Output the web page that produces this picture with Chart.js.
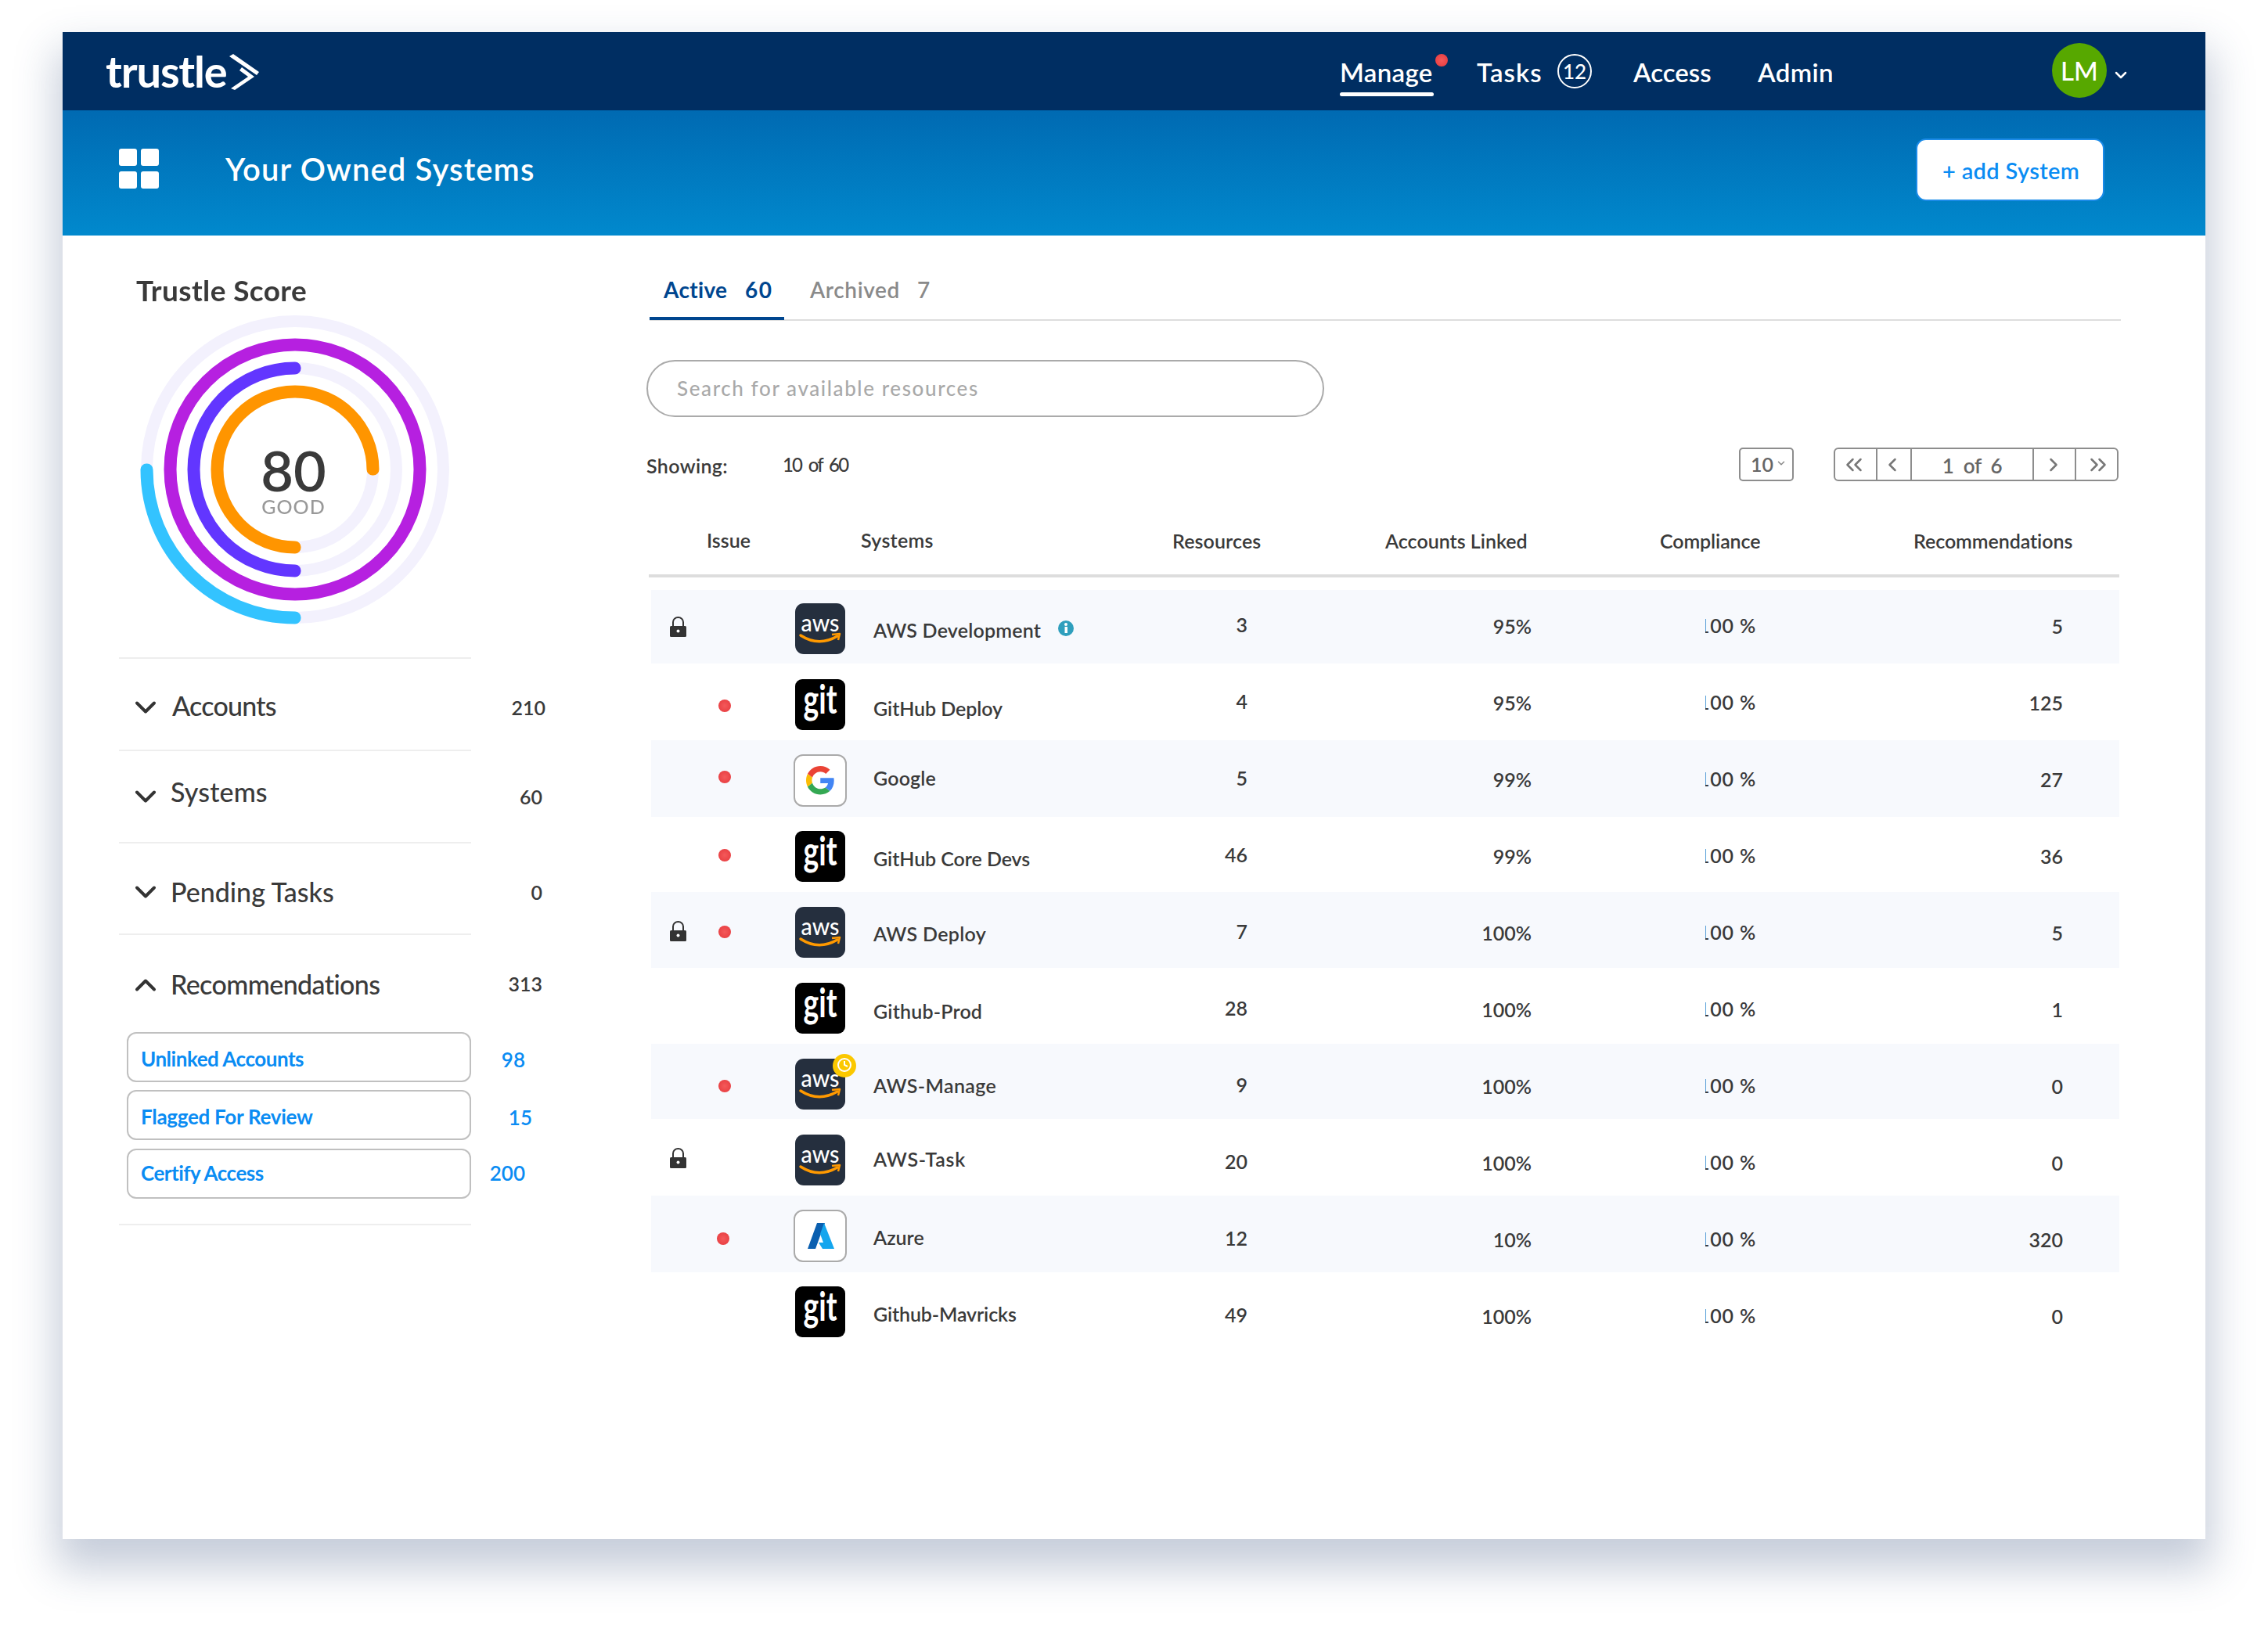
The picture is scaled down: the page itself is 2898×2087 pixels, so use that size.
<!DOCTYPE html>
<html>
<head>
<meta charset="utf-8">
<title>Trustle - Your Owned Systems</title>
<script src="https://cdn.jsdelivr.net/npm/chart.js@4"></script>
<style>
  html, body { margin: 0; background: #fff; overflow: hidden; }
  body { font-family: 'Lato', sans-serif; color: #3a3a3a; }
  #page { position: relative; width: 2898px; height: 2087px; overflow: hidden; }
  .box { position: absolute; box-sizing: border-box; }
  .t { position: absolute; white-space: pre; transform: translateY(-50%); line-height: 1; }
  svg { position: absolute; overflow: visible; }
</style>
</head>
<body>
<div id="page">
  <div class="box" style="left:80px;top:41px;width:2738px;height:1926px;background:#fff;box-shadow:0 30px 50px 8px rgba(45,70,120,.27)"></div>
  <div class="box" style="left:80px;top:41px;width:2738px;height:100px;background:#002e62"></div>
  <div class="box" style="left:80px;top:141px;width:2738px;height:160px;background:linear-gradient(#006ab2,#0189cd)"></div>
  <canvas id="score" class="box" width="440" height="440" style="left:157px;top:380px"></canvas>
</div>
<script>
// score rings (outer to inner)
const ringLabels = ['Score', 'Remaining'];
const ringAccounts = [25, 75];
const ringSystems = [100, 0];
const ringTasks = [50, 50];
const ringRecommendations = [75, 25];

// sidebar
const sidebarLabels = ['Accounts', 'Systems', 'Pending Tasks', 'Recommendations'];
const sidebarCounts = [210, 60, 0, 313];
const recommendLabels = ['Unlinked Accounts', 'Flagged For Review', 'Certify Access'];
const recommendCounts = [98, 15, 200];

// table
const tableHeaders = ['Issue', 'Systems', 'Resources', 'Accounts Linked', 'Compliance', 'Recommendations'];
const systemNames = ['AWS Development', 'GitHub Deploy', 'Google', 'GitHub Core Devs', 'AWS Deploy', 'Github-Prod', 'AWS-Manage', 'AWS-Task', 'Azure', 'Github-Mavricks'];
const systemKinds = ['aws', 'git', 'google', 'git', 'aws', 'git', 'aws', 'aws', 'azure', 'git'];
const resourceCounts = [3, 4, 5, 46, 7, 28, 9, 20, 12, 49];
const accountsLinked = [95, 95, 99, 99, 100, 100, 100, 100, 10, 100];
const compliance = [100, 100, 100, 100, 100, 100, 100, 100, 100, 100];
const recommendations = [5, 125, 27, 36, 5, 1, 0, 0, 320, 0];
const lockedRows = [0, 4, 7];
const flaggedRows = [1, 2, 3, 4, 6, 8];

// row layout
const bandTops = [754, 946, 1140, 1334, 1528];
const bandHeights = [94, 98, 97, 96, 98];
const iconTops = [771, 868, 965, 1062, 1159, 1256, 1353, 1450, 1547, 1644];
const nameY = [805, 905, 994, 1097, 1193, 1292, 1387, 1481, 1581, 1679];
const nameW = [214, 165, 80, 200, 144, 139, 157, 118, 65, 183];
const resourceY = [798, 896, 994, 1092, 1190, 1288, 1386, 1484, 1582, 1680];
const valueY = [800, 898, 996, 1094, 1192, 1290, 1388, 1486, 1584, 1682];
const lockY = { 0: 801, 4: 1190, 7: 1480 };
const dotY = { 1: 902, 2: 993, 3: 1093, 4: 1191, 6: 1388, 8: 1583 };

const page = document.getElementById('page');
const BLUE = '#0a8cf3';

function t(str, x, y, size, color, weight, align, width) {
  const el = document.createElement('div');
  el.className = 't';
  el.textContent = str;
  el.style.fontSize = size + 'px';
  el.style.color = color || '#3a3a3a';
  el.style.fontWeight = weight || 400;
  if (align === 'r') el.style.right = (2898 - x) + 'px';
  else if (align === 'c') { el.style.left = x + 'px'; el.style.transform = 'translate(-50%,-50%)'; }
  else el.style.left = x + 'px';
  el.style.top = y + 'px';
  page.appendChild(el);
  // squeeze or stretch so the run has the same length as the screenshot
  if (width) el.style.letterSpacing = ((width - el.offsetWidth) / str.length) + 'px';
  return el;
}

function box(x, y, w, h, css) {
  const el = document.createElement('div');
  el.className = 'box';
  el.style.cssText = `left:${x}px;top:${y}px;width:${w}px;height:${h}px;${css || ''}`;
  page.appendChild(el);
  return el;
}

function svg(x, y, w, h, inner) {
  page.insertAdjacentHTML('beforeend', `<svg style="left:${x}px;top:${y}px" width="${w}" height="${h}" viewBox="0 0 ${w} ${h}">${inner}</svg>`);
}

// dir: d, u, l, r
function chevron(x, y, dir, s, color, sw) {
  const pts = { d: [-s, -s / 2, 0, s / 2, s, -s / 2], u: [-s, s / 2, 0, -s / 2, s, s / 2], l: [s / 2, -s, -s / 2, 0, s / 2, s], r: [-s / 2, -s, s / 2, 0, -s / 2, s] }[dir];
  svg(x, y, 1, 1, `<polyline points="${pts.join(' ')}" fill="none" stroke="${color}" stroke-width="${sw}" stroke-linecap="round" stroke-linejoin="round"/>`);
}

// ---- top bar
t('trustle', 135, 91, 56, '#fff', 700, 'l', 155);
svg(293, 69, 38, 46, '<path d="M0 3 L5 0 L38 23 L35 27 Z M16 17 L32 29 L7 46 L2 44 L24 29 L13 21 Z" fill="#fff"/>');
const navX = [1712, 1887, 2087, 2246];
const navW = [119, 84, 100, 97];
['Manage', 'Tasks', 'Access', 'Admin'].forEach((s, i) => t(s, navX[i], 92, 33, '#fff', 600, 'l', navW[i]));
box(1712, 118, 120, 5, 'background:#fff;border-radius:3px');
box(1834, 69, 16, 16, 'background:radial-gradient(circle at 50% 50%,#f4595a,#e5383c);border-radius:50%');
box(1990, 69, 44, 44, 'border:2px solid #fff;border-radius:50%');
t('12', 2012, 91, 26, '#fff', 500, 'c');
box(2622, 55, 70, 70, 'background:#57a800;border-radius:50%');
t('LM', 2657, 90, 33, '#fff', 500, 'c');
chevron(2710, 96, 'd', 6, '#fff', 2.5);

// ---- banner
[[152, 190], [180, 190], [152, 219], [180, 219]].forEach(p => box(p[0], p[1], 23, 22, 'background:#fff;border-radius:3px'));
t('Your Owned Systems', 288, 216, 40, '#fff', 600, 'l', 395);
box(2448, 177, 241, 80, 'background:#fff;border:2px solid #1b8be8;border-radius:13px');
t('+ add System', 2482, 217, 29, BLUE, 600, 'l', 175);

// ---- sidebar
t('Trustle Score', 174, 370, 37, '#3a3a3a', 700, 'l', 218);
t('80', 375, 600, 72, '#3a3a3a', 600, 'c');
t('GOOD', 375, 647, 25, '#999', 500, 'c', 81);

[840, 958, 1076, 1193, 1564].forEach(y => box(152, y, 450, 2, 'background:#eee'));
const sideX = [220, 218, 218, 218];
const sideY = [902, 1012, 1140, 1258];
const sideW = [133, 124, 209, 268];
const chevY = [904, 1018, 1140, 1259];
const countR = [697, 693, 693, 693];
const countY = [904, 1018, 1140, 1257];
sidebarLabels.forEach((s, i) => {
  t(s, sideX[i], sideY[i], 34, '#3a3a3a', 500, 'l', sideW[i]);
  chevron(186, chevY[i], i === 3 ? 'u' : 'd', 11, '#333', 4);
  t(String(sidebarCounts[i]), countR[i], countY[i], 25, '#3a3a3a', 600, 'r');
});
const recTop = [1319, 1393, 1468];
const recCountR = [671, 680, 671];
const recCountY = [1354, 1428, 1499];
const recTextY = [1353, 1427, 1499];
const recW = [208, 220, 157];
recommendLabels.forEach((s, i) => {
  box(162, recTop[i], 440, 64, 'background:#fff;border:2px solid #c0c0c0;border-radius:12px');
  t(s, 180, recTextY[i], 26, BLUE, 700, 'l', recW[i]);
  t(String(recommendCounts[i]), recCountR[i], recCountY[i], 26, BLUE, 600, 'r');
});

// ---- tabs, search, paging
box(830, 408, 1880, 2, 'background:#ddd');
box(830, 405, 172, 4, 'background:#00468f');
t('Active', 848, 370, 28, '#00468f', 700, 'l', 82);
t('60', 952, 370, 28, '#00468f', 700, 'l', 35);
t('Archived', 1035, 370, 28, '#8a8a8a', 600, 'l', 115);
t('7', 1172, 370, 28, '#8a8a8a', 600);
box(826, 460, 866, 73, 'border:2px solid #aaa;border-radius:37px');
t('Search for available resources', 865, 496, 26, '#a9a9a9', 500, 'l', 386);
t('Showing:', 826, 595, 25, '#3a3a3a', 600, 'l', 104);
t('10  of  60', 1000, 594, 24, '#3a3a3a', 500, 'l', 83);
box(2222, 572, 70, 43, 'border:2px solid #8d8d8d;border-radius:5px');
t('10', 2237, 593, 25, '#666', 600);
chevron(2276, 592, 'd', 3.5, '#888', 1.5);
box(2343, 572, 364, 43, 'border:2px solid #8d8d8d;border-radius:6px');
[2397, 2441, 2597, 2651].forEach(x => box(x, 572, 2, 43, 'background:#8d8d8d'));
t('1  of  6', 2520, 595, 26, '#666', 600, 'c', 76);
chevron(2364, 594, 'l', 7, '#777', 2.5);
chevron(2374, 594, 'l', 7, '#777', 2.5);
chevron(2418, 594, 'l', 7, '#777', 2.5);
chevron(2624, 594, 'r', 7, '#777', 2.5);
chevron(2676, 594, 'r', 7, '#777', 2.5);
chevron(2686, 594, 'r', 7, '#777', 2.5);

// ---- table
const headX = [903, 1100, 1498, 1770, 2121, 2445];
const headY = [690, 690, 691, 691, 691, 691];
const headW = [56, 93, 113, 182, 128, 204];
tableHeaders.forEach((s, i) => t(s, headX[i], headY[i], 25, '#3a3a3a', 600, 'l', headW[i]));
box(829, 734, 1879, 4, 'background:#ddd');
bandTops.forEach((y, i) => box(832, y, 1876, bandHeights[i], 'background:#f7f9fd'));

function icon(kind, y) {
  let inner = '';
  if (kind === 'aws') {
    inner = `<rect width="64" height="65" rx="11" fill="#252f3e"/>
      <text x="32" y="36" text-anchor="middle" font-family="Lato" font-size="31" font-weight="500" fill="#fff" textLength="49" lengthAdjust="spacingAndGlyphs">aws</text>
      <path d="M7 41 Q30 56 54 42" fill="none" stroke="#f90" stroke-width="3.5" stroke-linecap="round"/>
      <path d="M47 40 L57 39 L55 47" fill="none" stroke="#f90" stroke-width="2.5" stroke-linejoin="round"/>`;
  } else if (kind === 'git') {
    inner = `<rect width="64" height="65" rx="9" fill="#000"/>
      <text x="32" y="44" text-anchor="middle" font-family="Lato" font-size="52" font-weight="700" fill="#fff" textLength="43" lengthAdjust="spacingAndGlyphs">git</text>`;
  } else if (kind === 'google') {
    inner = `<rect x="-1" width="66" height="65" rx="11" fill="#fff" stroke="#aaa" stroke-width="2"/>
      <g transform="translate(14 14) scale(.76)">
      <path fill="#EA4335" d="M24 9.5c3.54 0 6.71 1.22 9.21 3.6l6.85-6.85C35.9 2.38 30.47 0 24 0 14.62 0 6.51 5.38 2.56 13.22l7.98 6.19C12.43 13.72 17.74 9.5 24 9.5z"/>
      <path fill="#4285F4" d="M46.98 24.55c0-1.57-.15-3.09-.38-4.55H24v9.02h12.94c-.58 2.96-2.26 5.48-4.78 7.18l7.73 6c4.51-4.18 7.09-10.36 7.09-17.65z"/>
      <path fill="#FBBC05" d="M10.53 28.59c-.48-1.45-.76-2.99-.76-4.59s.27-3.14.76-4.59l-7.98-6.19C.92 16.46 0 20.12 0 24c0 3.88.92 7.54 2.56 10.78l7.97-6.19z"/>
      <path fill="#34A853" d="M24 48c6.48 0 11.93-2.13 15.89-5.81l-7.73-6c-2.15 1.45-4.92 2.3-8.16 2.3-6.26 0-11.57-4.22-13.47-9.91l-7.98 6.19C6.51 42.62 14.62 48 24 48z"/></g>`;
  } else {
    inner = `<rect x="-1" width="66" height="65" rx="11" fill="#fff" stroke="#aaa" stroke-width="2"/>
      <path d="M28 16 H38 L26 49 H16 Z" fill="#0a5fb0"/>
      <path d="M37 16 L50 49 H35 L30 41 L36 41 L32 30 Z" fill="#14a6ee"/>`;
  }
  svg(1016, y, 64, 65, inner);
}

function lock(y) {
  svg(856, y - 13, 21, 26, `<path d="M4 13 V7 a6.5 6 0 0 1 13 0 V13" fill="none" stroke="#333" stroke-width="2"/>
    <rect y="12" width="21" height="14" rx="1.5" fill="#333"/><circle cx="10.5" cy="18.5" r="2" fill="#fff"/>`);
}

systemNames.forEach((name, i) => {
  icon(systemKinds[i], iconTops[i]);
  t(name, 1116, nameY[i], 25, '#3a3a3a', 600, 'l', nameW[i]);
  t(String(resourceCounts[i]), 1594, resourceY[i], 25, '#3a3a3a', 600, 'r');
  t(accountsLinked[i] + '%', 1957, valueY[i], 25, '#3a3a3a', 600, 'r');
  // the compliance column is cut off on its left edge in the app
  const wrap = box(2179, valueY[i] - 16, 66, 32, 'overflow:hidden');
  const c = document.createElement('div');
  c.style.cssText = 'position:absolute;right:1px;top:3px;font-size:25px;font-weight:600;line-height:1;white-space:nowrap;letter-spacing:.8px';
  c.textContent = compliance[i] + ' %';
  wrap.appendChild(c);
  t(String(recommendations[i]), 2636, valueY[i], 25, '#3a3a3a', 600, 'r');
});
lockedRows.forEach(r => lock(lockY[r]));
flaggedRows.forEach(r => box(r === 8 ? 916 : 918, dotY[r] - 8, 16, 16, 'background:radial-gradient(circle at 50% 50%,#f4595a,#e5383c);border-radius:50%'));
svg(1352, 793, 20, 20, '<circle cx="10" cy="10" r="10" fill="#2f9fbd"/><rect x="8.5" y="8" width="3.5" height="8" fill="#fff"/><circle cx="10" cy="5" r="2" fill="#fff"/>');
svg(1064, 1347, 30, 30, '<circle cx="15" cy="15" r="15" fill="#fbc800"/><circle cx="15" cy="14" r="8" fill="none" stroke="#fff" stroke-width="2"/><path d="M15 9 V14 L19 16" fill="none" stroke="#fff" stroke-width="2"/>');

// ---- score chart
const ringTrack = {
  id: 'ringTrack',
  beforeDatasetsDraw(chart) {
    const ctx = chart.ctx;
    chart.data.datasets.forEach((ds, i) => {
      if (!ds.track) return;
      const arc = chart.getDatasetMeta(i).data[0];
      ctx.save();
      ctx.strokeStyle = '#f3f1fd';
      ctx.lineWidth = 15;
      ctx.beginPath();
      ctx.arc(arc.x, arc.y, (arc.innerRadius + arc.outerRadius) / 2, 0, Math.PI * 2);
      ctx.stroke();
      ctx.restore();
    });
  }
};

function ring(data, color) {
  return {
    data,
    weight: 1,
    track: true,
    backgroundColor: [color, 'transparent'],
    borderColor: [color, 'transparent'],
    borderWidth: 15,
    borderJoinStyle: 'round'
  };
}

function gap() {
  return { data: [1], weight: 29, backgroundColor: 'transparent', borderWidth: 0 };
}

new Chart(document.getElementById('score'), {
  type: 'doughnut',
  data: {
    labels: ringLabels,
    datasets: [
      ring(ringAccounts, '#33c3ff'),
      gap(),
      ring(ringSystems, '#b620e0'),
      gap(),
      ring(ringTasks, '#6236ff'),
      gap(),
      ring(ringRecommendations, '#ff9500')
    ]
  },
  options: {
    responsive: false,
    animation: false,
    rotation: 180,
    radius: 190,
    cutout: '52.1%',
    plugins: { legend: { display: false }, tooltip: { enabled: false } }
  },
  plugins: [ringTrack]
});
</script>
</body>
</html>
